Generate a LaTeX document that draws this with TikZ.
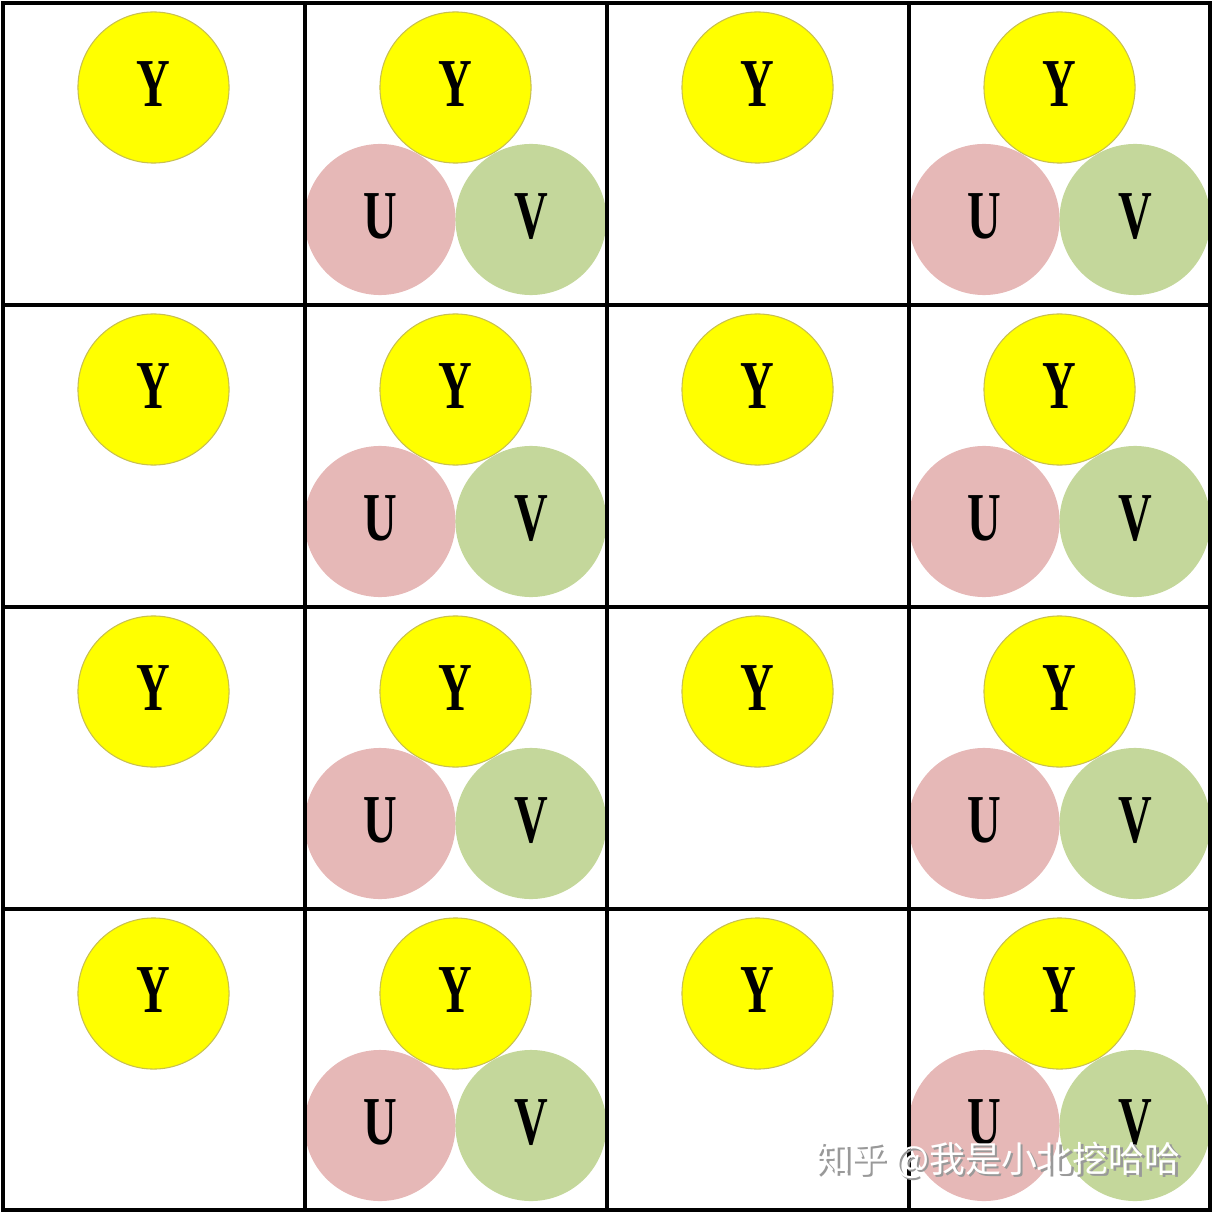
\documentclass[tikz,border=0pt]{standalone}
\usepackage{fontspec}
\setmainfont{Liberation Serif}
\newfontfamily\cjkfont{Noto Sans CJK SC}

\definecolor{yfill}{HTML}{FFFF00}
\definecolor{yedge}{HTML}{C8C050}
\definecolor{ufill}{HTML}{E6B8B7}
\definecolor{vfill}{HTML}{C4D79B}

\newcommand{\chan}[1]{\raisebox{0.06cm}{\scalebox{0.68}[1]{\bfseries\fontsize{19.5}{20}\selectfont #1}}}

\tikzset{
	plane/.style = {circle, minimum size=1.51cm, inner sep=0pt},
	ychan/.style = {plane, fill=yfill, draw=yedge, line width=0.3pt},
	uchan/.style = {plane, fill=ufill},
	vchan/.style = {plane, fill=vfill},
	gridline/.style = {line width=0.042cm, black},
	wmtext/.style = {font=\cjkfont\fontsize{10.2}{10.2}\selectfont, inner sep=0pt}
}

\begin{document}
\begin{tikzpicture}[x=0.01cm, y=-0.01cm]
	\useasboundingbox (0,0) rectangle (1213,1213);
	
	% Y only / Y with U and V
	\foreach \r in {0,...,3} {
		\foreach \c in {0,2} {
			\node[ychan] (y-\r-\c) at ({153.5+302*\c},{87.5+302*\r}) {\chan{Y}};
		}
		\foreach \c in {1,3} {
			\node[ychan] (y-\r-\c) at ({153.5+302*\c},{87.5+302*\r}) {\chan{Y}};
			\node[uchan] (u-\r-\c) at ({78+302*\c},{219.5+302*\r}) {\chan{U}};
			\node[vchan] (v-\r-\c) at ({229+302*\c},{219.5+302*\r}) {\chan{V}};
		}
	}
	
	% grid
	\draw[gridline] (3,3) rectangle (1210,1210);
	\foreach \k in {1,2,3} {
		\draw[gridline] ({3+302*\k},3) -- ({3+302*\k},1210);
		\draw[gridline] (3,{3+302*\k}) -- (1210,{3+302*\k});
	}
	
	% watermark
	\node[wmtext, text=black!40] (wm-shadow) at (1000.5,1162.5) {知乎 @我是小北挖哈哈};
	\node[wmtext, text=white] (wm) at (998,1160) {知乎 @我是小北挖哈哈};
\end{tikzpicture}
\end{document}
